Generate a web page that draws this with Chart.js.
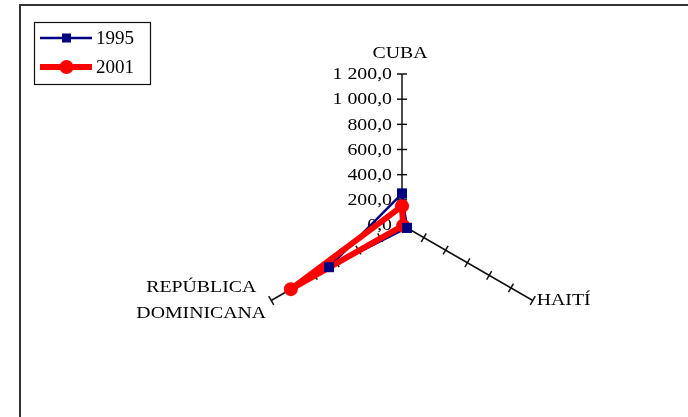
<!DOCTYPE html>
<html>
<head>
<meta charset="utf-8">
<script src="https://cdn.jsdelivr.net/npm/chart.js@4/dist/chart.umd.min.js"></script>
<style>
  html, body { margin: 0; padding: 0; background: #fff; }
  canvas { display: block; }
</style>
</head>
<body>
<canvas id="c" width="688" height="417"></canvas>
<script>
// ---- data ----
const CATEGORIES = ['CUBA', 'HAITÍ', 'REPÚBLICA DOMINICANA'];
const CATEGORY_LINES = [['CUBA'], ['HAITÍ'], ['REPÚBLICA', 'DOMINICANA']];
const SERIES_NAMES = ['1995', '2001'];
const VALUES_1995 = [250, 45, 670];
const VALUES_2001 = [150, 10, 1020];
const AXIS_MIN = 0;
const AXIS_MAX = 1200;
const AXIS_STEP = 200;

function fmt(v) {
  const s = v.toFixed(1).replace('.', ',');
  const parts = s.split(',');
  parts[0] = parts[0].replace(/\B(?=(\d{3})+(?!\d))/g, ' ');
  return parts.join(',');
}

const SERIF = '"Liberation Serif", "Times New Roman", serif';
const SX = 1.2;

function stretchedText(ctx, text, x, y, align, size) {
  ctx.save();
  ctx.translate(x, y);
  ctx.scale(SX, 1);
  ctx.font = size + 'px ' + SERIF;
  ctx.textAlign = align;
  ctx.textBaseline = 'middle';
  ctx.fillStyle = '#000';
  ctx.fillText(text, 0, 0);
  ctx.restore();
}

const decor = {
  id: 'decor',
  beforeDraw(chart) {
    const ctx = chart.ctx;
    ctx.save();
    ctx.fillStyle = '#fff';
    ctx.fillRect(0, 0, chart.width, chart.height);
    ctx.strokeStyle = '#333';
    ctx.lineWidth = 2;
    ctx.beginPath();
    ctx.moveTo(20, chart.height);
    ctx.lineTo(20, 5);
    ctx.lineTo(chart.width, 5);
    ctx.stroke();
    ctx.restore();
  },
  beforeDatasetsDraw(chart) {
    const ctx = chart.ctx;
    const scale = chart.scales.r;
    ctx.save();
    ctx.strokeStyle = '#111';
    ctx.lineWidth = 1.5;
    const n = chart.data.labels.length;
    for (let i = 0; i < n; i++) {
      const a = scale.getIndexAngle(i) - Math.PI / 2;
      const px = -Math.sin(a), py = Math.cos(a);
      scale.ticks.forEach(t => {
        if (t.value <= AXIS_MIN) return;
        const p = scale.getPointPositionForValue(i, t.value);
        ctx.beginPath();
        ctx.moveTo(p.x - 5 * px, p.y - 5 * py);
        ctx.lineTo(p.x + 5 * px, p.y + 5 * py);
        ctx.stroke();
      });
    }
    ctx.restore();
    // tick labels on first axis
    scale.ticks.forEach(t => {
      const p = scale.getPointPositionForValue(0, t.value);
      stretchedText(ctx, fmt(t.value), p.x - 10, p.y + 1, 'right', 16.5);
    });
  },
  afterDatasetsDraw(chart) {
    const ctx = chart.ctx;
    const scale = chart.scales.r;
    // redraw 1995 markers on top
    const meta0 = chart.getDatasetMeta(0);
    meta0.data.forEach(pt => pt.draw(ctx, chart.chartArea));

    // category labels
    const p0 = scale.getPointPositionForValue(0, AXIS_MAX);
    stretchedText(ctx, CATEGORY_LINES[0][0], p0.x - 2, p0.y - 20, 'center', 16.5);
    const p1 = scale.getPointPositionForValue(1, AXIS_MAX);
    stretchedText(ctx, CATEGORY_LINES[1][0], p1.x + 4, p1.y, 'left', 16.5);
    const p2 = scale.getPointPositionForValue(2, AXIS_MAX);
    stretchedText(ctx, CATEGORY_LINES[2][0], p2.x - 70, p2.y - 12.5, 'center', 16.5);
    stretchedText(ctx, CATEGORY_LINES[2][1], p2.x - 70, p2.y + 13, 'center', 16.5);

    // legend
    ctx.save();
    ctx.strokeStyle = '#111';
    ctx.lineWidth = 1.2;
    ctx.strokeRect(34.5, 22.5, 116, 62);
    const rowsY = [38, 67];
    chart.data.datasets.forEach((ds, k) => {
      const y = rowsY[k];
      ctx.strokeStyle = ds.borderColor;
      ctx.lineWidth = ds.borderWidth;
      ctx.lineCap = 'butt';
      ctx.beginPath();
      ctx.moveTo(40, y);
      ctx.lineTo(92, y);
      ctx.stroke();
      ctx.fillStyle = ds.pointBackgroundColor;
      if (ds.pointStyle === 'rect') {
        ctx.fillRect(66.5 - 4.5, y - 4.5, 9, 9);
      } else {
        ctx.beginPath();
        ctx.arc(66.5, y, 7, 0, Math.PI * 2);
        ctx.fill();
      }
      ctx.fillStyle = '#000';
      ctx.font = '19px ' + SERIF;
      ctx.textAlign = 'left';
      ctx.textBaseline = 'middle';
      ctx.fillText(ds.label, 96, y + 1);
    });
    ctx.restore();
  }
};

new Chart(document.getElementById('c'), {
  type: 'radar',
  data: {
    labels: CATEGORIES,
    datasets: [
      {
        label: SERIES_NAMES[0],
        data: VALUES_1995,
        borderColor: '#000080',
        backgroundColor: '#000080',
        borderWidth: 2.5,
        pointStyle: 'rect',
        pointRadius: 7,
        pointBackgroundColor: '#000080',
        pointBorderColor: '#000080',
        pointBorderWidth: 0,
        fill: false,
        order: 1
      },
      {
        label: SERIES_NAMES[1],
        data: VALUES_2001,
        borderColor: '#ff0000',
        backgroundColor: '#ff0000',
        borderWidth: 6,
        pointStyle: 'circle',
        pointRadius: 7,
        pointBackgroundColor: '#ff0000',
        pointBorderColor: '#ff0000',
        pointBorderWidth: 0,
        fill: false,
        order: 0
      }
    ]
  },
  options: {
    responsive: false,
    animation: false,
    devicePixelRatio: 1,
    layout: { padding: { left: 251, right: 135, top: 74, bottom: 41 } },
    elements: { line: { tension: 0 } },
    plugins: { legend: { display: false }, tooltip: { enabled: false } },
    scales: {
      r: {
        min: AXIS_MIN,
        max: AXIS_MAX,
        ticks: { display: false, stepSize: AXIS_STEP },
        grid: { display: false },
        angleLines: { display: true, color: '#111', lineWidth: 1.5 },
        pointLabels: { display: false }
      }
    }
  },
  plugins: [decor]
});
</script>
</body>
</html>
